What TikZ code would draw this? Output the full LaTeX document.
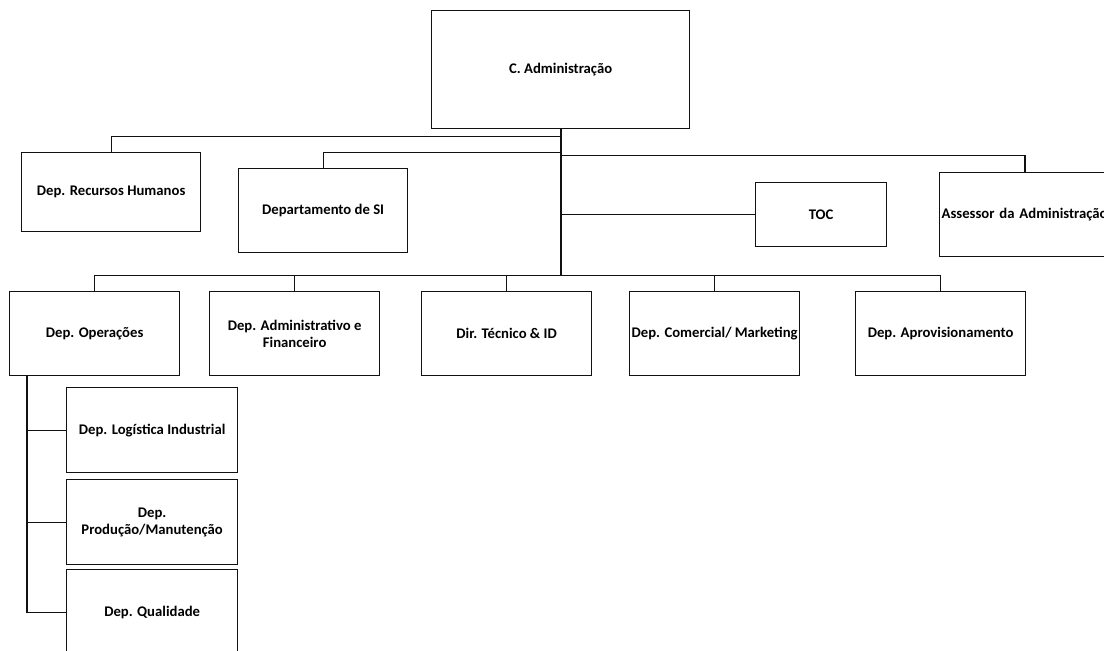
\documentclass[tikz,border=0pt]{standalone}
\usepackage{fontspec}
\setmainfont{Carlito}
\usetikzlibrary{positioning,calc}
\definecolor{onavy}{HTML}{111111}
\tikzset{
  unit/.style={draw=onavy,fill=white,line width=1.3pt,align=center,font=\fontsize{14.7}{17}\selectfont\bfseries,inner sep=2pt,anchor=north west},
  link/.style={draw=onavy,line width=1.3pt},
  trunk/.style={draw=onavy,line width=2pt},
}
\begin{document}
\begin{tikzpicture}[x=1pt,y=-1pt]
  \useasboundingbox (0,0) rectangle (1104,651);
  \clip (0,0) rectangle (1104,651);
  \node[unit,minimum width=258pt,minimum height=118pt] (adm) at (431,10) {C. Administração};
  \node[unit,minimum width=179pt,minimum height=79pt] (rh) at (21,152) {Dep. Recursos Humanos};
  \node[unit,minimum width=169pt,minimum height=84pt] (si) at (238,168) {Departamento de SI};
  \node[unit,minimum width=131pt,minimum height=64pt] (toc) at (755,182) {TOC};
  \node[unit,text width=168pt,align=left,minimum height=84pt] (ass) at (939,172) {Assessor da Administração};
  \foreach \n/\x/\t in {ops/9/{Dep. Operações},
      fin/209/{Dep. Administrativo e\\Financeiro},
      dir/421/{Dir. Técnico \& ID},
      com/629/{Dep. Comercial/ Marketing},
      apr/855/{Dep. Aprovisionamento}} {
    \node[unit,minimum width=170pt,minimum height=84pt] (\n) at (\x,291) {\t};
  }
  \foreach \n/\y/\t in {log/387/{Dep. Logística Industrial},
      prd/479/{Dep.\\Produção/Manutenção},
      qua/569/{Dep. Qualidade}} {
    \node[unit,minimum width=171pt,minimum height=85pt] (\n) at (66,\y) {\t};
  }
  \draw[trunk] (adm.south) -- ([yshift=-146pt]adm.south) coordinate (tbot);
  \draw[link] (rh.north) |- ([yshift=-7pt]adm.south);
  \draw[link] (si.north) |- ([yshift=-23pt]adm.south);
  \draw[link] ([xshift=86pt]ass.north west) |- ([yshift=-26pt]adm.south);
  \draw[link] (toc.west) -- (toc.west -| adm.south);
  \draw[link] (ops.north) |- (tbot) -| (apr.north);
  \foreach \n in {fin,dir,com}
    \draw[link] (\n.north) -- (\n.north |- tbot);
  \coordinate (sub) at ([xshift=18pt]ops.south west);
  \draw[link] (sub) |- (qua.west);
  \foreach \n in {log,prd}
    \draw[link] (\n.west) -- (\n.west -| sub);
\end{tikzpicture}
\end{document}
